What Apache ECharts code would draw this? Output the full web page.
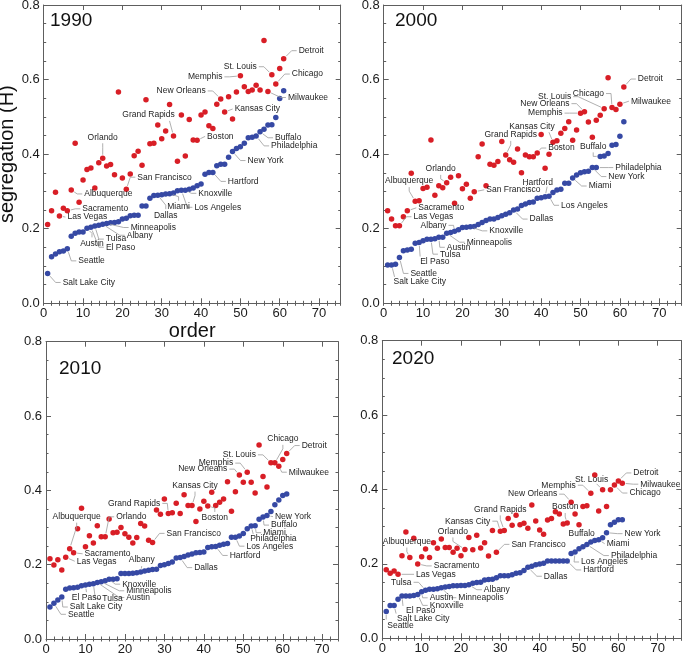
<!DOCTYPE html>
<html><head><meta charset="utf-8">
<script src="https://cdn.jsdelivr.net/npm/echarts/dist/echarts.min.js"></script>
<style>html,body{margin:0;padding:0;background:#fff}#c{width:685px;height:654px}</style>
</head><body><div id="c"></div>
<script>
// ---------------- DATA ----------------
const years = ['1990', '2000', '2010', '2020'];
const xTickLabels = [0, 10, 20, 30, 40, 50, 60, 70];
const yTickLabels = [0.0, 0.2, 0.4, 0.6, 0.8];

const red1990 = [0.211,0.248,0.298,0.234,0.255,0.248,0.304,0.429,0.271,0.331,
  0.359,0.363,0.309,0.377,0.389,0.368,0.372,0.345,0.567,0.336,
  0.306,0.347,0.396,0.408,0.370,0.546,0.428,0.429,0.478,0.441,
  0.462,0.533,0.449,0.381,0.505,0.395,0.493,0.438,0.437,0.505,
  0.513,0.476,0.469,0.534,0.548,0.513,0.554,0.494,0.567,0.610,
  0.581,0.568,0.572,0.585,0.572,0.705,0.568,0.613,0.588,0.630,0.656];
const blue1990 = [0.080,0.125,0.132,0.138,0.140,0.146,0.180,0.188,0.191,0.191,
  0.201,0.204,0.207,0.209,0.212,0.214,0.216,0.217,0.219,0.226,
  0.228,0.235,0.236,0.236,0.261,0.261,0.282,0.289,0.290,0.291,
  0.293,0.294,0.296,0.302,0.303,0.303,0.306,0.309,0.315,0.320,
  0.346,0.351,0.351,0.369,0.373,0.373,0.392,0.407,0.415,0.420,
  0.429,0.444,0.445,0.449,0.460,0.467,0.478,0.479,0.498,0.549,0.570];

const red2000 = [0.248,0.226,0.208,0.208,0.232,0.248,0.349,0.274,0.275,0.308,
  0.311,0.438,0.290,0.315,0.310,0.323,0.338,0.268,0.342,0.307,
  0.319,0.282,0.299,0.393,0.427,0.315,0.373,0.370,0.380,0.434,
  0.398,0.385,0.378,0.414,0.350,0.398,0.393,0.393,0.403,0.453,
  0.362,0.400,0.432,0.436,0.456,0.469,0.487,0.437,0.465,0.510,
  0.514,0.486,0.445,0.491,0.504,0.522,0.605,0.525,0.520,0.534,0.580];
const blue2000 = [0.103,0.103,0.105,0.123,0.141,0.143,0.145,0.161,0.163,0.168,
  0.172,0.172,0.173,0.177,0.177,0.188,0.190,0.193,0.197,0.203,
  0.204,0.205,0.206,0.211,0.217,0.222,0.226,0.226,0.230,0.235,
  0.239,0.243,0.250,0.253,0.262,0.266,0.270,0.272,0.282,0.283,
  0.286,0.287,0.297,0.304,0.306,0.322,0.322,0.336,0.344,0.350,
  0.353,0.354,0.364,0.364,0.394,0.395,0.402,0.424,0.426,0.448,0.487];

const red2010 = [0.216,0.199,0.213,0.186,0.220,0.243,0.232,0.297,0.352,0.248,
  0.278,0.258,0.305,0.275,0.275,0.323,0.286,0.287,0.300,0.283,
  0.274,0.258,0.273,0.311,0.304,0.266,0.260,0.347,0.336,0.377,
  0.338,0.340,0.365,0.338,0.388,0.359,0.359,0.316,0.350,0.371,
  0.358,0.395,0.359,0.368,0.377,0.423,0.344,0.396,0.441,0.422,
  0.449,0.422,0.393,0.522,0.437,0.409,0.474,0.474,0.465,0.483,0.499];
const blue2010 = [0.086,0.096,0.105,0.113,0.134,0.137,0.138,0.139,0.143,0.145,
  0.147,0.149,0.152,0.154,0.157,0.161,0.161,0.162,0.176,0.176,
  0.176,0.177,0.178,0.180,0.183,0.185,0.187,0.188,0.198,0.200,
  0.203,0.207,0.218,0.219,0.222,0.226,0.229,0.232,0.233,0.234,
  0.246,0.248,0.249,0.252,0.255,0.257,0.274,0.274,0.277,0.284,
  0.297,0.304,0.305,0.322,0.328,0.332,0.343,0.361,0.374,0.386,0.390];

const red2020 = [0.184,0.175,0.181,0.172,0.222,0.286,0.217,0.269,0.200,0.219,
  0.240,0.217,0.257,0.242,0.267,0.244,0.244,0.231,0.242,0.222,
  0.239,0.271,0.238,0.277,0.243,0.257,0.221,0.290,0.231,0.288,
  0.290,0.322,0.304,0.331,0.305,0.309,0.296,0.358,0.315,0.291,
  0.280,0.318,0.322,0.340,0.334,0.307,0.310,0.366,0.334,0.305,
  0.354,0.356,0.390,0.439,0.342,0.399,0.354,0.399,0.412,0.423,0.417];
const blue2020 = [0.072,0.088,0.088,0.105,0.114,0.114,0.114,0.115,0.118,0.125,
  0.129,0.132,0.132,0.133,0.136,0.138,0.139,0.141,0.141,0.142,
  0.142,0.144,0.148,0.150,0.151,0.157,0.158,0.159,0.163,0.168,
  0.168,0.168,0.171,0.175,0.176,0.182,0.191,0.194,0.198,0.200,
  0.202,0.208,0.208,0.208,0.208,0.208,0.208,0.228,0.232,0.241,
  0.246,0.252,0.259,0.263,0.265,0.270,0.284,0.305,0.312,0.319,0.319];

// labelled cities: [name, series ('r' red / 'b' blue), order]
const cities1990 = [['Detroit','r',61],['St. Louis','r',58],['Chicago','r',59],['Milwaukee','r',57],
  ['Memphis','r',50],['New Orleans','r',45],['Kansas City','r',46],['Grand Rapids','r',33],
  ['Orlando','r',15],['Boston','r',39],['San Francisco','r',21],['Albuquerque','r',7],
  ['Sacramento','r',6],['Las Vegas','r',4],
  ['Buffalo','b',55],['Philadelphia','b',54],['New York','b',48],['Hartford','b',43],
  ['Knoxville','b',36],['Los Angeles','b',35],['Miami','b',32],['Dallas','b',29],
  ['Minneapolis','b',16],['Albany','b',15],['Tulsa','b',13],['El Paso','b',12],
  ['Austin','b',11],['Seattle','b',6],['Salt Lake City','b',1]];
const cities2000 = [['Detroit','r',61],['Milwaukee','r',60],['Chicago','r',58],['St. Louis','r',56],
  ['New Orleans','r',51],['Memphis','r',50],['Kansas City','r',43],['Grand Rapids','r',31],
  ['Boston','r',39],['Las Vegas','r',4],['Sacramento','r',6],['Albuquerque','r',8],
  ['Orlando','r',16],['San Francisco','r',23],
  ['Buffalo','b',55],['Philadelphia','b',54],['New York','b',53],['Miami','b',48],
  ['Hartford','b',41],['Los Angeles','b',42],['Dallas','b',33],['Knoxville','b',22],
  ['Albany','b',18],['Minneapolis','b',16],['Austin','b',14],['Tulsa','b',12],
  ['El Paso','b',9],['Seattle','b',4],['Salt Lake City','b',2]];
const cities2010 = [['Detroit','r',61],['Chicago','r',58],['St. Louis','r',57],['Milwaukee','r',59],
  ['Memphis','r',51],['New Orleans','r',49],['Kansas City','r',37],['Grand Rapids','r',31],
  ['Boston','r',41],['Orlando','r',15],['Albuquerque','r',6],['San Francisco','r',27],
  ['Sacramento','r',7],['Las Vegas','r',5],
  ['Albany','b',24],['Dallas','b',34],['Hartford','b',43],['Los Angeles','b',48],
  ['Philadelphia','b',52],['Miami','b',53],['Buffalo','b',55],['New York','b',56],
  ['Knoxville','b',16],['Minneapolis','b',14],['Austin','b',13],['Tulsa','b',12],
  ['El Paso','b',10],['Salt Lake City','b',4],['Seattle','b',2]];
const cities2020 = [['Detroit','r',60],['Milwaukee','r',61],['Chicago','r',59],['St. Louis','r',56],
  ['Memphis','r',53],['New Orleans','r',48],['Boston','r',47],['Grand Rapids','r',31],
  ['Kansas City','r',30],['Orlando','r',21],['Albuquerque','r',7],['San Francisco','r',29],
  ['Sacramento','r',9],['Las Vegas','r',4],
  ['Buffalo','b',53],['Miami','b',55],['Philadelphia','b',52],['Los Angeles','b',49],
  ['Hartford','b',47],['New York','b',57],['Dallas','b',37],['Albany','b',22],
  ['Minneapolis','b',15],['Tulsa','b',11],['Austin','b',10],['Knoxville','b',9],
  ['El Paso','b',5],['Salt Lake City','b',3],['Seattle','b',1]];

// ---------------- LAYOUT (positions / styles) ----------------
// label offsets in px relative to the point: [dx, dy, align, lineEndDx, lineEndDy]
const labelOffsets1990 = {
  'Detroit':[15,-8,'left'],'St. Louis':[-15,-8,'right'],'Chicago':[16,-10,'left'],'Milwaukee':[20,6,'left'],
  'Memphis':[-18,1,'right'],'New Orleans':[-15,-8,'right'],'Kansas City':[10,-3,'left'],
  'Grand Rapids':[-25,-21,'center',-4,-15],'Orlando':[0,-21,'center'],'Boston':[10,-4,'left'],
  'San Francisco':[11,-12,'left'],'Albuquerque':[13,4,'left'],'Sacramento':[15,-2,'left'],'Las Vegas':[8,1,'left'],
  'Buffalo':[15,6,'left'],'Philadelphia':[15,10,'left'],'New York':[15,9,'left'],'Hartford':[15,9,'left'],
  'Knoxville':[13,3,'left'],'Los Angeles':[13,17,'left'],'Miami':[9,13,'center'],'Dallas':[8,20,'center'],
  'Minneapolis':[24,4,'left'],'Albany':[24,11,'left'],'Tulsa':[11,13,'left'],'El Paso':[15,20,'left'],
  'Austin':[5,15,'center'],'Seattle':[11,12,'left'],'Salt Lake City':[15,9,'left']};
const labelOffsets2000 = {
  'Detroit':[14,-8,'left'],'Milwaukee':[11,-3,'left'],'Chicago':[-8,-14,'right'],'St. Louis':[-33,-12,'right'],
  'New Orleans':[-15,-8,'right'],'Memphis':[-18,0,'right'],'Kansas City':[-21,-16,'center',-4,-10],
  'Grand Rapids':[5,-20,'center'],'Boston':[11,-5,'left'],'Las Vegas':[14,-9,'left'],'Sacramento':[11,-3,'left'],
  'Albuquerque':[-6,-20,'center'],'Orlando':[-6,-14,'center'],'San Francisco':[12,-2,'left'],
  'Buffalo':[-7,-10,'center'],'Philadelphia':[19,0,'left'],'New York':[16,9,'left'],'Miami':[16,8,'left'],
  'Hartford':[8,-14,'right',2,-10],'Los Angeles':[12,9,'left'],'Dallas':[16,9,'left'],'Knoxville':[19,4,'left'],
  'Albany':[-8,-6,'right'],'Minneapolis':[20,9,'left'],'Austin':[8,10,'left'],'Tulsa':[9,15,'left'],
  'El Paso':[1,19,'left',1,14],'Seattle':[11,16,'left'],'Salt Lake City':[2,17,'left',3,12]};
const labelOffsets2010 = {
  'Detroit':[15,-8,'left'],'Chicago':[8,-24,'center'],'St. Louis':[-15,-8,'right'],'Milwaukee':[10,6,'left'],
  'Memphis':[-14,-9,'right'],'New Orleans':[-12,-6,'right'],'Kansas City':[3,-20,'center'],
  'Grand Rapids':[-8,-10,'right'],'Boston':[7,12,'center'],'Orlando':[11,-20,'left'],
  'Albuquerque':[7,-32,'center'],'San Francisco':[14,-9,'left'],'Sacramento':[11,1,'left'],'Las Vegas':[11,4,'left'],
  'Albany':[1,-12,'center'],'Dallas':[14,10,'left'],'Hartford':[14,9,'left'],'Los Angeles':[11,9,'left'],
  'Philadelphia':[-1,13,'left',2,8],'Miami':[8,7,'left'],'Buffalo':[8,8,'left'],'New York':[8,1,'left'],
  'Knoxville':[13,5,'left'],'Minneapolis':[25,9,'left'],'Austin':[29,15,'left'],'Tulsa':[9,15,'left'],
  'El Paso':[1,13,'center'],'Salt Lake City':[8,10,'left'],'Seattle':[14,11,'left']};
const labelOffsets2020 = {
  'Detroit':[15,-8,'left'],'Milwaukee':[18,1,'left'],'Chicago':[15,8,'left'],'St. Louis':[-11,-10,'center',-6,-6],
  'Memphis':[-15,-8,'right'],'New Orleans':[-14,-8,'right'],'Boston':[-2,-16,'center'],
  'Grand Rapids':[-4,-21,'center'],'Kansas City':[-10,-10,'right'],'Orlando':[-12,-18,'center'],
  'Albuquerque':[-3,-16,'center'],'San Francisco':[15,-8,'left'],'Sacramento':[16,2,'left'],'Las Vegas':[18,0,'left'],
  'Buffalo':[4,-8,'right',-2,-4],'Miami':[8,4,'left'],'Philadelphia':[24,11,'left'],'Los Angeles':[6,10,'left'],
  'Hartford':[16,9,'left'],'New York':[18,1,'left'],'Dallas':[16,9,'left'],'Albany':[15,5,'left'],
  'Minneapolis':[17,10,'left'],'Tulsa':[-14,-8,'right'],'Austin':[8,6,'left'],'Knoxville':[12,11,'left'],
  'El Paso':[4,15,'left',1,10],'Salt Lake City':[3,13,'left',2,8],'Seattle':[1,14,'left',0,8]};

const panels = [
  {left:43.7, top:5, width:297, height:298.3, xMax:75.5, yearLeft:50, yearTop:11},
  {left:383.7, top:5, width:298, height:298.3, xMax:75.7, yearLeft:395, yearTop:11},
  {left:46, top:341.7, width:292, height:297.3, xMax:74, yearLeft:59, yearTop:359},
  {left:382.3, top:340.7, width:299, height:297.6, xMax:76, yearLeft:392, yearTop:349}
];
const redVals = [red1990, red2000, red2010, red2020];
const blueVals = [blue1990, blue2000, blue2010, blue2020];
const cityLists = [cities1990, cities2000, cities2010, cities2020];
const offsetLists = [labelOffsets1990, labelOffsets2000, labelOffsets2010, labelOffsets2020];

const RED = '#d81e26', BLUE = '#3649a4', AXIS = '#5e5e5e', FONT = 'Liberation Sans, Arial, sans-serif';

// ---------------- BUILD ----------------
const grids = [], xAxes = [], yAxes = [], series = [], titles = [];

function labelRenderer(names, offs) {
  return function (params, api) {
    const name = names[params.dataIndex];
    const o = offs[name] || [10, 0, 'left'];
    const p = api.coord([api.value(0), api.value(1)]);
    const tx = p[0] + o[0], ty = p[1] + o[1], al = o[2];
    let end, elbow = null;
    if (o.length > 3) { end = [p[0] + o[3], p[1] + o[4]]; }
    else if (al === 'left') { end = [tx - 2, ty]; elbow = [tx - 7, ty]; }
    else if (al === 'right') { end = [tx + 2, ty]; elbow = [tx + 7, ty]; }
    else { const s = o[1] < 0 ? 1 : -1; end = [tx, ty + s * 6]; elbow = [tx, ty + s * 10]; }
    const d = (a) => Math.hypot(a[0] - p[0], a[1] - p[1]);
    if (elbow && (d(elbow) < 6 || d(elbow) > d(end))) elbow = null;
    const first = elbow || end;
    const L = d(first) || 1;
    const start = [p[0] + (first[0] - p[0]) / L * 3.5, p[1] + (first[1] - p[1]) / L * 3.5];
    const pts = elbow ? [start, elbow, end] : [start, end];
    const children = [];
    if (d(end) > 4.5) {
      children.push({type: 'polyline', shape: {points: pts},
        style: {stroke: '#9c9c9c', lineWidth: 0.8, fill: null}});
    }
    children.push({type: 'text', x: tx, y: ty,
      style: {text: name, fill: '#1e1e1e', font: '8.5px ' + FONT, align: al, verticalAlign: 'middle',
        textAlign: al, textVerticalAlign: 'middle'}});
    return {type: 'group', children: children};
  };
}

panels.forEach((P, i) => {
  grids.push({left: P.left, top: P.top, width: P.width, height: P.height, containLabel: false, outerBoundsMode: 'none'});
  const xb = {gridIndex: i, type: 'value', min: 0, max: P.xMax, splitLine: {show: false},
    axisLine: {show: true, onZero: false, lineStyle: {color: AXIS, width: 1}}};
  const xi = xAxes.length;
  xAxes.push(Object.assign({}, xb, {position: 'bottom', interval: 10,
    axisTick: {show: true, inside: true, length: 5, lineStyle: {color: AXIS}},
    axisLabel: {show: true, showMaxLabel: false, margin: 4, fontSize: 13, color: '#1a1a1a', fontFamily: FONT,
      formatter: (v) => xTickLabels.includes(v) ? String(v) : ''},
    name: i === 0 ? 'order' : '', nameLocation: 'middle', nameGap: 15,
    nameTextStyle: {fontSize: 20, color: '#111', fontFamily: FONT}}));
  xAxes.push(Object.assign({}, xb, {position: 'bottom', interval: 2, axisLine: {show: false},
    axisTick: {show: true, inside: true, length: 2.5, lineStyle: {color: AXIS}}, axisLabel: {show: false}}));
  xAxes.push(Object.assign({}, xb, {position: 'top', interval: 10,
    axisTick: {show: true, inside: true, length: 5, lineStyle: {color: AXIS}}, axisLabel: {show: false}}));
  xAxes.push(Object.assign({}, xb, {position: 'top', interval: 2, axisLine: {show: false},
    axisTick: {show: true, inside: true, length: 2.5, lineStyle: {color: AXIS}}, axisLabel: {show: false}}));
  const yb = {gridIndex: i, type: 'value', min: 0, max: 0.8, interval: 0.2, splitLine: {show: false},
    axisLine: {show: true, onZero: false, lineStyle: {color: AXIS, width: 1}},
    axisTick: {show: true, inside: true, length: 5, lineStyle: {color: AXIS}},
    minorTick: {show: true, splitNumber: 4, length: 2.5, lineStyle: {color: AXIS}}};
  const yi = yAxes.length;
  yAxes.push(Object.assign({}, yb, {position: 'left',
    axisLabel: {show: true, margin: 4, fontSize: 13, color: '#1a1a1a', fontFamily: FONT,
      formatter: (v) => yTickLabels.some(t => Math.abs(t - v) < 1e-9) ? v.toFixed(1) : ''},
    name: i === 0 ? 'segregation (H)' : '', nameLocation: 'middle', nameGap: 24,
    nameTextStyle: {fontSize: 20, color: '#111', fontFamily: FONT}}));
  yAxes.push(Object.assign({}, yb, {position: 'right', axisLabel: {show: false}}));

  const red = redVals[i], blue = blueVals[i];
  series.push({type: 'scatter', xAxisIndex: xi, yAxisIndex: yi, symbolSize: 5.5,
    itemStyle: {color: BLUE, opacity: 1}, data: blue.map((v, k) => [k + 1, v]), z: 3});
  series.push({type: 'scatter', xAxisIndex: xi, yAxisIndex: yi, symbolSize: 5.5,
    itemStyle: {color: RED, opacity: 1}, data: red.map((v, k) => [k + 1, v]), z: 3});
  const cl = cityLists[i];
  const names = cl.map(c => c[0]);
  series.push({type: 'custom', xAxisIndex: xi, yAxisIndex: yi, clip: false, silent: true, z: 5,
    renderItem: labelRenderer(names, offsetLists[i]), encode: {x: 0, y: 1},
    data: cl.map(c => [c[2], (c[1] === 'r' ? red : blue)[c[2] - 1]])});
  titles.push({text: years[i], left: P.yearLeft, top: P.yearTop, padding: 0,
    textStyle: {fontSize: 19, fontWeight: 'normal', color: '#111', fontFamily: FONT}});
});

const chart = echarts.init(document.getElementById('c'), null, {renderer: 'canvas'});
chart.setOption({animation: false, backgroundColor: '#fff', title: titles, grid: grids,
  xAxis: xAxes, yAxis: yAxes, series: series, tooltip: {show: false}});
</script></body></html>
